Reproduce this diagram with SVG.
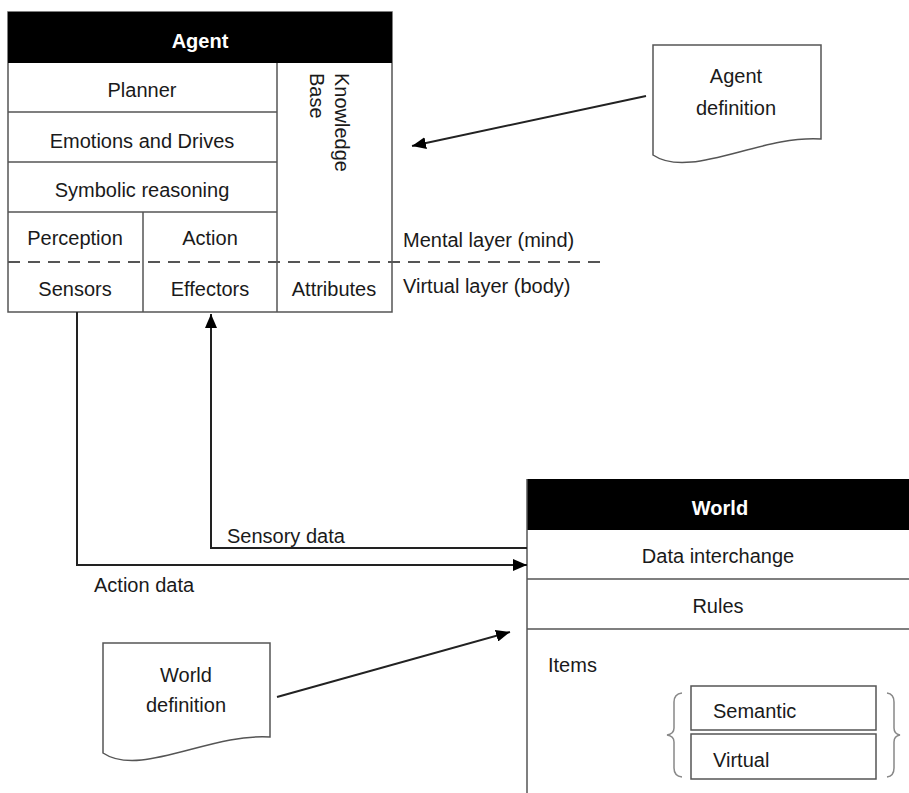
<svg xmlns="http://www.w3.org/2000/svg" width="909" height="793" viewBox="0 0 909 793">
<defs>
<style>
text{font-family:"Liberation Sans",Arial,sans-serif;font-size:20px;fill:#1a1a1a}
.c{text-anchor:middle}
.hd{fill:#fff;font-weight:bold}
.box{fill:#fff;stroke:#555;stroke-width:1.5}
.ln{stroke:#555;stroke-width:1.5;fill:none}
.dash{stroke:#555;stroke-width:2;stroke-dasharray:12 8;fill:none}
.conn{stroke:#222;stroke-width:2;fill:none}
.brace{stroke:#888;stroke-width:1.5;fill:none}
</style>
<marker id="arr" markerUnits="userSpaceOnUse" markerWidth="14" markerHeight="12" viewBox="0 0 14 12" refX="14" refY="6" orient="auto">
<path d="M0,0 L14,6 L0,12 z" fill="#000"/>
</marker>
</defs>
<rect width="909" height="793" fill="#fff"/>

<g id="agent">
<rect class="box" x="8" y="12" width="384" height="300"/>
<rect x="8" y="12" width="384" height="51" fill="#000"/>
<text class="c hd" x="200" y="48">Agent</text>
<line class="ln" x1="8" y1="112" x2="277" y2="112"/>
<line class="ln" x1="8" y1="162" x2="277" y2="162"/>
<line class="ln" x1="8" y1="212" x2="277" y2="212"/>
<line class="ln" x1="277" y1="63" x2="277" y2="312"/>
<line class="ln" x1="143" y1="212" x2="143" y2="312"/>
<text class="c" x="142" y="97">Planner</text>
<text class="c" x="142" y="148">Emotions and Drives</text>
<text class="c" x="142" y="197">Symbolic reasoning</text>
<text class="c" x="75" y="245">Perception</text>
<text class="c" x="210" y="245">Action</text>
<text class="c" x="75" y="296">Sensors</text>
<text class="c" x="210" y="296">Effectors</text>
<text class="c" x="334" y="296">Attributes</text>
<g transform="translate(335,73) rotate(90)">
<text x="0" y="0">Knowledge</text>
<text x="0" y="25">Base</text>
</g>
</g>

<g id="layers">
<line class="dash" x1="8" y1="262" x2="600" y2="262"/>
<text x="403" y="247">Mental layer (mind)</text>
<text x="403" y="293">Virtual layer (body)</text>
</g>

<g id="agent-definition">
<path class="box" d="M653,155 L653,45 L821,45 L821,139 C760,135 690,180 653,155 z"/>
<text class="c" x="736" y="83">Agent</text>
<text class="c" x="736" y="115">definition</text>
</g>

<g id="world">
<rect x="527" y="479" width="390" height="51" fill="#000"/>
<line class="ln" x1="527" y1="479" x2="527" y2="793"/>
<line class="ln" x1="527" y1="579" x2="909" y2="579"/>
<line class="ln" x1="527" y1="629" x2="909" y2="629"/>
<text class="c hd" x="720" y="515">World</text>
<text class="c" x="718" y="563">Data interchange</text>
<text class="c" x="718" y="613">Rules</text>
<text x="548" y="672">Items</text>
<rect class="box" x="691" y="686" width="185" height="44"/>
<rect class="box" x="691" y="734" width="185" height="45"/>
<text x="713" y="718">Semantic</text>
<text x="713" y="767">Virtual</text>
<path class="brace" d="M682,693 Q674,694 674,702 L674,728 Q674,734 667,735 Q674,736 674,742 L674,768 Q674,776 682,777"/>
<path class="brace" d="M887,693 Q894,694 894,702 L894,728 Q894,734 900,735 Q894,736 894,742 L894,768 Q894,776 887,777"/>
</g>

<g id="world-definition">
<path class="box" d="M103,753 L103,643 L270,643 L270,737 C210,733 140,778 103,753 z"/>
<text class="c" x="186" y="682">World</text>
<text class="c" x="186" y="712">definition</text>
</g>

<g id="connectors">
<polyline class="conn" points="77,312 77,565 527,565" marker-end="url(#arr)"/>
<polyline class="conn" points="527,548 211,548 211,314" marker-end="url(#arr)"/>
<line class="conn" x1="646" y1="96" x2="412" y2="146" marker-end="url(#arr)"/>
<line class="conn" x1="277" y1="697" x2="510" y2="632" marker-end="url(#arr)"/>
<text x="227" y="543">Sensory data</text>
<text x="94" y="592">Action data</text>
</g>
</svg>
